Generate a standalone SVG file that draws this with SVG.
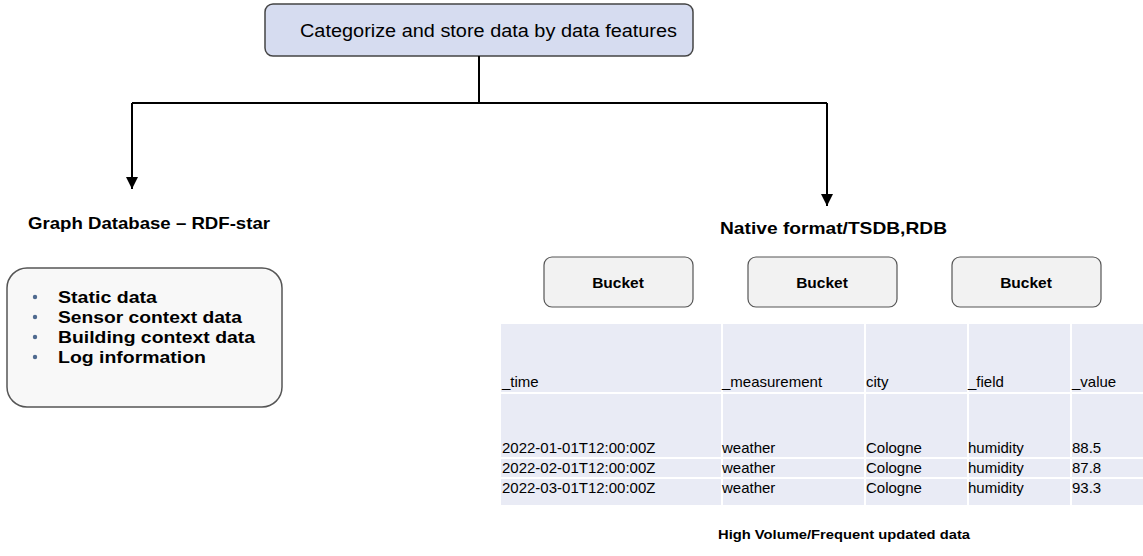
<svg xmlns="http://www.w3.org/2000/svg" width="1143" height="556" viewBox="0 0 1143 556">
<defs>
<marker id="arr" markerWidth="12" markerHeight="12" refX="11" refY="5.5" orient="auto" markerUnits="userSpaceOnUse" viewBox="0 0 11 11">
<path d="M0,0 L11,5.5 L0,11 Z" fill="#000"/>
</marker>
</defs>
<style>
text{font-family:"Liberation Sans",Arial,sans-serif;fill:#000}
.b{font-weight:bold}
.cell{font-size:15px}
.bucket rect{fill:#F2F2F2;stroke:#555;stroke-width:1.2}
.bk{font-size:15.5px;font-weight:bold;text-anchor:middle}
.conn{stroke:#000;stroke-width:2;fill:none}
</style>
<rect width="1143" height="556" fill="#fff"/>
<g id="top">
<rect x="265" y="4" width="428" height="52" rx="8" fill="#D6DCF0" stroke="#444" stroke-width="1.5"/>
<text x="300" y="37" font-size="17.5" textLength="377" lengthAdjust="spacingAndGlyphs" fill="#222">Categorize and store data by data features</text>
</g>
<g id="connectors">
<path class="conn" d="M479,56 V103"/>
<path class="conn" d="M132,103 H827"/>
<path class="conn" d="M132,103 V189" marker-end="url(#arr)"/>
<path class="conn" d="M827,103 V206" marker-end="url(#arr)"/>
</g>
<g id="graphdb">
<text x="28" y="229" font-size="16.5" class="b" textLength="242" lengthAdjust="spacingAndGlyphs">Graph Database – RDF-star</text>
<rect x="7" y="268" width="275" height="139" rx="20" fill="#F8F8F8" stroke="#555" stroke-width="1.5"/>
<g font-size="16.5" class="b">
<circle cx="35" cy="297" r="2.2" fill="#4F6A8F"/>
<text x="58" y="303" textLength="99" lengthAdjust="spacingAndGlyphs">Static data</text>
<circle cx="35" cy="317" r="2.2" fill="#4F6A8F"/>
<text x="58" y="323" textLength="184" lengthAdjust="spacingAndGlyphs">Sensor context data</text>
<circle cx="35" cy="337" r="2.2" fill="#4F6A8F"/>
<text x="58" y="343" textLength="197" lengthAdjust="spacingAndGlyphs">Building context data</text>
<circle cx="35" cy="357" r="2.2" fill="#4F6A8F"/>
<text x="58" y="363" textLength="148" lengthAdjust="spacingAndGlyphs">Log information</text>
</g>
</g>
<g id="native">
<text x="720" y="234" font-size="16.5" class="b" textLength="227" lengthAdjust="spacingAndGlyphs">Native format/TSDB,RDB</text>
</g>
<g id="bucket1" class="bucket">
<rect x="544" y="257" width="149" height="50" rx="8"/>
<text x="618" y="288" class="bk">Bucket</text>
</g>
<g id="bucket2" class="bucket">
<rect x="748" y="257" width="149" height="50" rx="8"/>
<text x="822" y="288" class="bk">Bucket</text>
</g>
<g id="bucket3" class="bucket">
<rect x="952" y="257" width="149" height="50" rx="8"/>
<text x="1026" y="288" class="bk">Bucket</text>
</g>
<g id="table">
<rect x="501" y="324" width="642" height="181" fill="#E9EBF5"/>
<g stroke="#fff" stroke-width="2">
<path d="M722,324 V505 M865,324 V505 M968,324 V505 M1071,324 V505"/>
<path d="M501,393 H1143 M501,458 H1143 M501,478 H1143"/>
</g>
<g class="cell">
<text x="502" y="387">_time</text>
<text x="722" y="387">_measurement</text>
<text x="866" y="387">city</text>
<text x="968" y="387">_field</text>
<text x="1072" y="387">_value</text>
<text x="502" y="453">2022-01-01T12:00:00Z</text>
<text x="722" y="453">weather</text>
<text x="866" y="453">Cologne</text>
<text x="968" y="453">humidity</text>
<text x="1072" y="453">88.5</text>
<text x="502" y="473">2022-02-01T12:00:00Z</text>
<text x="722" y="473">weather</text>
<text x="866" y="473">Cologne</text>
<text x="968" y="473">humidity</text>
<text x="1072" y="473">87.8</text>
<text x="502" y="493">2022-03-01T12:00:00Z</text>
<text x="722" y="493">weather</text>
<text x="866" y="493">Cologne</text>
<text x="968" y="493">humidity</text>
<text x="1072" y="493">93.3</text>
</g>
</g>
<g id="footer">
<text x="718" y="539" font-size="13.5" class="b" textLength="252" lengthAdjust="spacingAndGlyphs">High Volume/Frequent updated data</text>
</g>
</svg>
